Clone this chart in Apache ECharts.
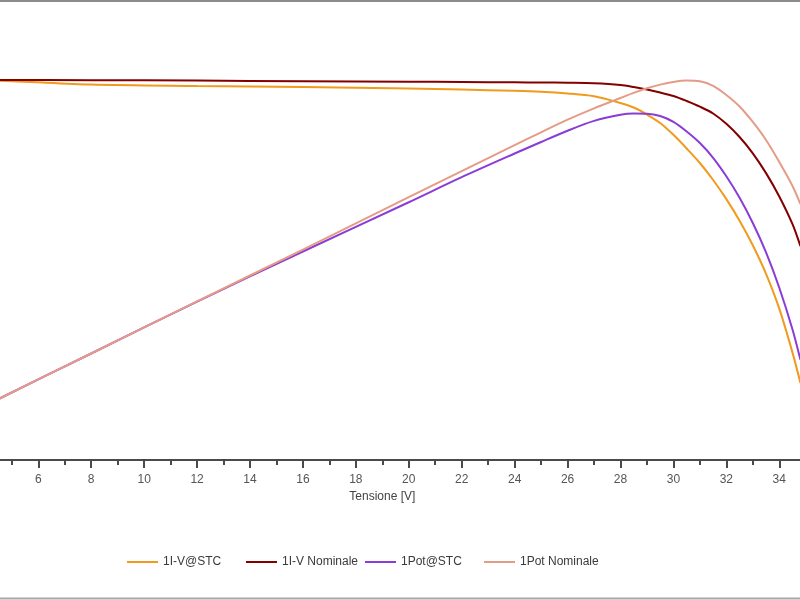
<!DOCTYPE html>
<html>
<head>
<meta charset="utf-8">
<script src="https://cdn.jsdelivr.net/npm/echarts@6/dist/echarts.min.js"></script>
<style>
html,body{margin:0;padding:0;background:#fff;overflow:hidden;width:800px;height:600px;position:relative;}
#c{position:absolute;left:-130px;top:0;width:1030px;height:600px;}
</style>
</head>
<body>
<div id="c"></div>
<script>
// Voltage [V]
var voltage = [0, 4.5, 8, 12, 16, 20, 22, 24, 25, 26, 27, 28, 28.5, 29, 29.5, 30, 30.5, 31, 31.5, 32, 32.5, 33, 33.5, 34, 34.5, 34.8];
// Current [A] - I-V @ STC
var ivStc = [8.65, 8.62, 8.534, 8.50, 8.475, 8.443, 8.418, 8.391, 8.37, 8.33, 8.266, 8.114, 8.011, 7.852, 7.659, 7.39, 7.08, 6.75, 6.364, 5.93, 5.44, 4.88, 4.23, 3.44, 2.44, 1.75];
// Current [A] - I-V Nominale
var ivNom = [8.641, 8.636, 8.632, 8.623, 8.609, 8.598, 8.591, 8.584, 8.58, 8.573, 8.561, 8.523, 8.477, 8.42, 8.352, 8.273, 8.159, 8.03, 7.875, 7.64, 7.34, 6.97, 6.52, 5.99, 5.36, 4.86];
// Power [W] - Pot @ STC
var potStc = [0, 40.2, 70.2, 104.4, 137.4, 169.9, 186.4, 202.0, 209.6, 217.0, 223.5, 227.5, 228.3, 228.2, 226.7, 222.8, 216.5, 208.9, 199.2, 187.0, 172.8, 156.2, 136.8, 113.5, 86.0, 66.0];
// Power [W] - Pot Nominale
var potNom = [0, 40.2, 70.2, 104.5, 138.7, 173.2, 190.4, 207.5, 216.0, 224.3, 231.8, 238.6, 242.0, 245.0, 247.4, 249.2, 250.1, 249.6, 246.6, 240.6, 233.0, 222.8, 210.9, 196.4, 180.6, 168.7];

var seriesNames = ['1I-V@STC', '1I-V Nominale', '1Pot@STC', '1Pot Nominale'];
var seriesColors = ['#F09A1E', '#820000', '#8A3CD6', '#E59C86'];
var xAxisName = 'Tensione [V]';

function pairs(ys) { return voltage.map(function (v, i) { return [v, ys[i]]; }); }

var FONT = 'Liberation Sans';
var OFFSET = 130; // chart canvas is shifted left by this many px
var chart = echarts.init(document.getElementById('c'), null, { renderer: 'canvas' });

var legends = seriesNames.map(function (n, i) {
  return {
    data: [n],
    left: [127, 246, 365, 484][i] + OFFSET,
    top: 556,
    padding: 0,
    icon: 'rect',
    itemWidth: 31,
    itemHeight: 2,
    itemGap: 5,
    textStyle: { fontFamily: FONT, fontSize: 12, color: '#3a3a3a' },
    selectedMode: false
  };
});

var dataSets = [ivStc, ivNom, potStc, potNom];
var series = seriesNames.map(function (n, i) {
  return {
    name: n,
    type: 'line',
    yAxisIndex: i < 2 ? 0 : 1,
    data: pairs(dataSets[i]),
    smooth: 0.3,
    symbol: 'none',
    lineStyle: { color: seriesColors[i], width: 2 },
    itemStyle: { color: seriesColors[i] },
    animation: false
  };
});

chart.setOption({
  backgroundColor: '#ffffff',
  animation: false,
  grid: { left: 9.5, right: 14.87, top: 20, bottom: 140, containLabel: false },
  legend: legends,
  xAxis: {
    type: 'value',
    min: 0,
    max: 38,
    interval: 2,
    name: xAxisName,
    nameLocation: 'middle',
    nameGap: 28,
    nameTextStyle: { fontFamily: FONT, fontSize: 12, color: '#444' },
    axisLine: { show: true, lineStyle: { color: '#4a4a4a', width: 2 } },
    axisTick: { show: true, length: 8, lineStyle: { color: '#4a4a4a', width: 2 } },
    minorTick: { show: true, splitNumber: 2, length: 5, lineStyle: { color: '#4a4a4a', width: 2 } },
    axisLabel: { margin: 14, fontFamily: FONT, fontSize: 12, color: '#555' },
    splitLine: { show: false }
  },
  yAxis: [
    { type: 'value', min: 0, max: 10, show: false, splitLine: { show: false } },
    { type: 'value', min: 0, max: 290, show: false, splitLine: { show: false } }
  ],
  graphic: [
    { type: 'line', shape: { x1: OFFSET, y1: 1, x2: OFFSET + 800, y2: 1 }, style: { stroke: '#8c8c8c', lineWidth: 2 } },
    { type: 'line', shape: { x1: OFFSET, y1: 598.5, x2: OFFSET + 800, y2: 598.5 }, style: { stroke: '#a8a8a8', lineWidth: 2 } }
  ],
  series: series
});
</script>
</body>
</html>
